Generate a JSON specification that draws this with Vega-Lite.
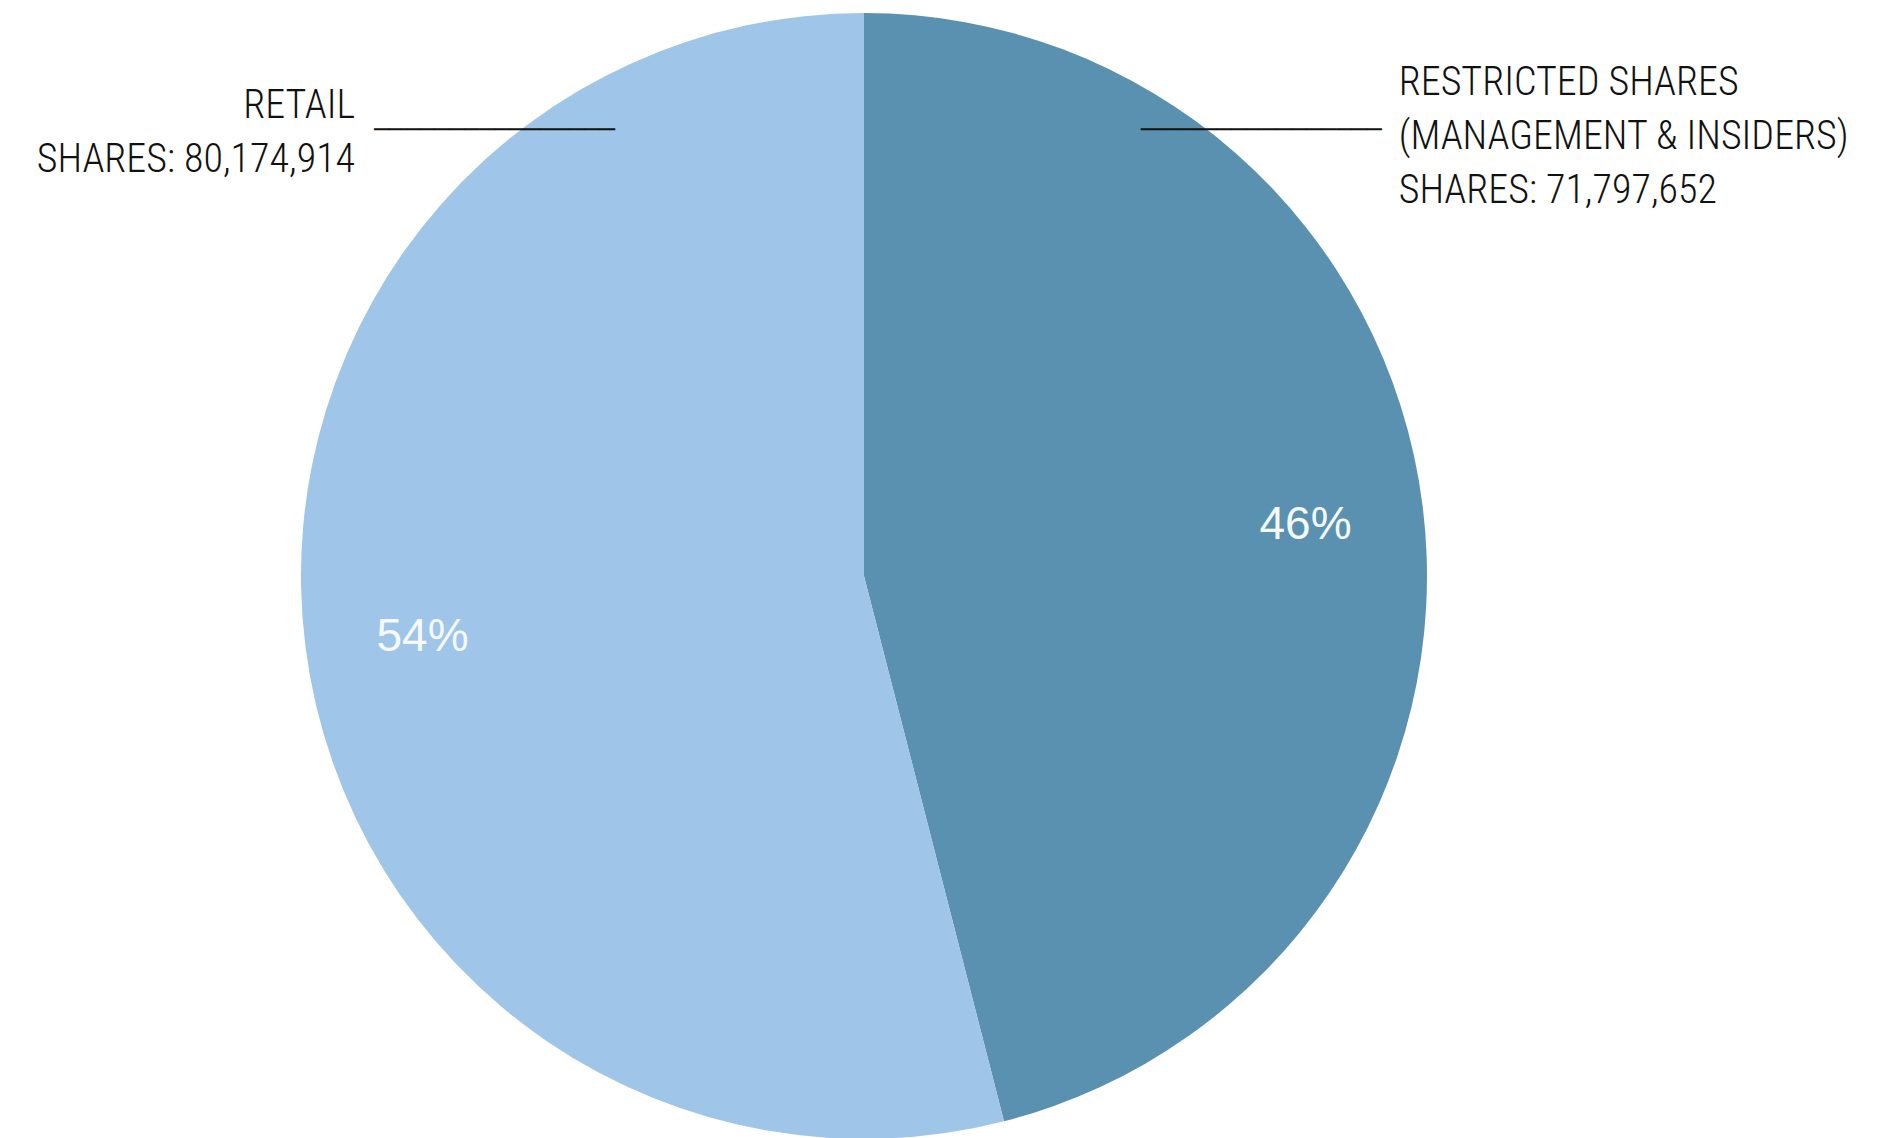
{
  "$schema": "https://vega.github.io/schema/vega-lite/v6.json",
  "autosize": {"type": "none"},
  "padding": {"left": 301, "top": 13, "right": 460, "bottom": 0},
  "width": 1126,
  "height": 1126,
  "background": "white",
  "config": {"view": {"stroke": null}},
  "data": {
    "values": [
      {"category": "Restricted", "percent": 46, "pct": "46%", "label": "RESTRICTED SHARES\n(MANAGEMENT & INSIDERS)\nSHARES: 71,797,652"},
      {"category": "Retail", "percent": 54, "pct": "54%", "label": "RETAIL\nSHARES: 80,174,914"}
    ]
  },
  "encoding": {
    "theta": {"field": "percent", "type": "quantitative", "stack": true},
    "detail": {"field": "category", "type": "nominal"}
  },
  "layer": [
    {
      "mark": {"type": "arc", "outerRadius": 563},
      "encoding": {
        "color": {
          "field": "category",
          "type": "nominal",
          "scale": {"domain": ["Restricted", "Retail"], "range": ["#5A91B0", "#9FC5E8"]},
          "legend": null
        }
      }
    },
    {
      "mark": {"type": "text", "radius": 445, "dy": 5, "font": "Liberation Sans, Arial, sans-serif", "fontSize": 46, "align": "center", "baseline": "middle", "color": "#F6F9FC"},
      "encoding": {"text": {"field": "pct", "type": "nominal"}}
    },
    {
      "mark": {"type": "text", "radius": 513, "dx": 0, "dy": -522, "align": "right", "baseline": "alphabetic", "font": "Roboto Condensed, DejaVu Sans Condensed, sans-serif", "fontSize": 40, "fontWeight": 300, "lineHeight": 54, "lineBreak": "\n", "color": "#111111"},
      "encoding": {"text": {"condition": {"test": "datum.category === 'Retail'", "field": "label"}, "value": ""}}
    },
    {
      "mark": {"type": "text", "radius": 541, "dx": -2, "dy": -413, "align": "left", "baseline": "alphabetic", "font": "Roboto Condensed, DejaVu Sans Condensed, sans-serif", "fontSize": 40, "fontWeight": 300, "lineHeight": 54, "lineBreak": "\n", "color": "#111111"},
      "encoding": {"text": {"condition": {"test": "datum.category === 'Restricted'", "field": "label"}, "value": ""}}
    },
    {
      "mark": {"type": "text", "radius": 513, "dx": 19, "dy": -510, "align": "left", "baseline": "middle", "font": "DejaVu Sans Mono", "fontSize": 25, "color": "#111111"},
      "encoding": {"text": {"condition": {"test": "datum.category === 'Retail'", "value": "────────────────"}, "value": ""}}
    },
    {
      "mark": {"type": "text", "radius": 541, "dx": -260, "dy": -378, "align": "left", "baseline": "middle", "font": "DejaVu Sans Mono", "fontSize": 25, "color": "#111111"},
      "encoding": {"text": {"condition": {"test": "datum.category === 'Restricted'", "value": "────────────────"}, "value": ""}}
    }
  ]
}
